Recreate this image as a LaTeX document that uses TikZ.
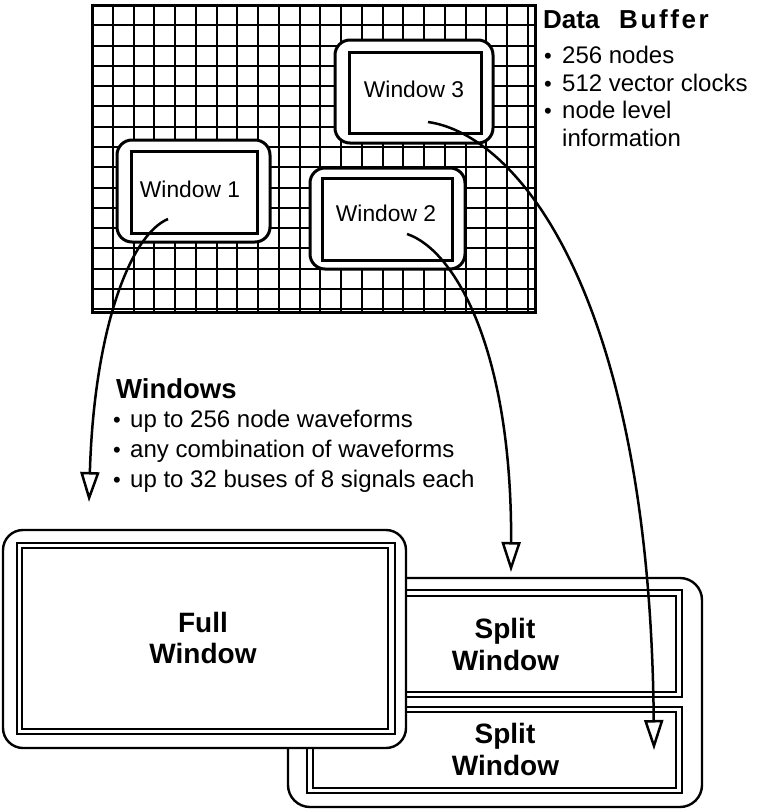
\documentclass[tikz,border=0pt]{standalone}
\usepackage{fontspec}
\setmainfont{Liberation Sans}
\newfontfamily\bufspaced[LetterSpace=10]{Liberation Sans}
\usetikzlibrary{arrows.meta}
\begin{document}
\begin{tikzpicture}[x=1pt,y=-1pt,
  gridline/.style={line width=2pt},
  outerwin/.style={draw, fill=white, line width=3pt, rounded corners=15pt, inner sep=0pt},
  innerwin/.style={draw, fill=white, line width=3pt, inner sep=0pt},
  bigouter/.style={draw, fill=white, line width=2.4pt, rounded corners=22pt, inner sep=0pt},
  dblline/.style={draw, line width=2pt, inner sep=0pt},
  winlabel/.style={font=\fontsize{22.8}{26}\selectfont, anchor=base, inner sep=0pt},
  listtext/.style={font=\fontsize{24}{28}\selectfont, anchor=base west, inner sep=0pt},
  bulletmark/.style={font=\fontsize{22}{26}\selectfont, anchor=base, inner sep=0pt},
  bigbold/.style={font=\bfseries\fontsize{28}{32}\selectfont, anchor=base, inner sep=0pt},
  titletext/.style={font=\bfseries\fontsize{27.5}{32}\selectfont, anchor=base west, inner sep=0pt},
  flow/.style={line width=2.5pt, -{Triangle[open, length=30pt, width=19pt]}}
]
\useasboundingbox (0,0) rectangle (760,809);

% ---- lower windows ----
\node[bigouter, minimum width=414pt, minimum height=229pt] (splitframe) at (495,692.5) {};
\node[dblline, minimum width=375pt, minimum height=107pt] (s1a) at (494.5,643.5) {};
\node[dblline, line width=1.6pt, minimum width=363pt, minimum height=96pt] (s1b) at (494.5,644) {};
\node[dblline, minimum width=375pt, minimum height=86pt] (s2a) at (494.5,750) {};
\node[dblline, line width=1.6pt, minimum width=363pt, minimum height=76pt] (s2b) at (494.5,750) {};

\node[bigouter, rounded corners=20pt, minimum width=403pt, minimum height=218pt] (fullframe) at (204.5,639) {};
\node[dblline, minimum width=378pt, minimum height=191pt] (fa) at (206,638.5) {};
\node[dblline, line width=1.6pt, minimum width=366pt, minimum height=181pt] (fb) at (205,638.5) {};

\node[bigbold] (full1) at (203,632) {Full};
\node[bigbold] (full2) at (203,663) {Window};
\node[bigbold] (sa1) at (505,638) {Split};
\node[bigbold] (sa2) at (505.5,670) {Window};
\node[bigbold] (sb1) at (505,743) {Split};
\node[bigbold] (sb2) at (505.5,775) {Window};

% ---- data buffer grid ----
\foreach \k in {1,...,21} \draw[gridline] ({92+20.75*\k},5) -- ({92+20.75*\k},312);
\foreach \k in {1,...,15} \draw[gridline] (92,{5+20.29*\k}) -- (535,{5+20.29*\k});
\node[draw, line width=3pt, inner sep=0pt, minimum width=443pt, minimum height=307pt] (buffer) at (313.5,158.5) {};

% ---- windows in the buffer ----
\node[outerwin, minimum width=153pt, minimum height=102pt] (w1o) at (193.5,191) {};
\node[innerwin, minimum width=126pt, minimum height=82pt] (w1) at (194,192) {};
\node[outerwin, minimum width=155pt, minimum height=101pt] (w2o) at (387.5,218.5) {};
\node[innerwin, minimum width=130pt, minimum height=82pt] (w2) at (387,219) {};
\node[outerwin, minimum width=158pt, minimum height=103pt] (w3o) at (414,91.5) {};
\node[innerwin, minimum width=132pt, minimum height=81pt] (w3) at (415,92.5) {};

\node[winlabel] (w1t) at (190,197) {Window 1};
\node[winlabel] (w2t) at (386,221) {Window 2};
\node[winlabel] (w3t) at (414,97) {Window 3};

% ---- Data Buffer text ----
\node[font=\bfseries\fontsize{26}{30}\selectfont, anchor=base west, inner sep=0pt] (dbt1) at (543,28) {Data};
\node[font=\bufspaced\bfseries\fontsize{26}{30}\selectfont, anchor=base west, inner sep=0pt] (dbt2) at (619,28) {Buffer};
\node[bulletmark] (db1b) at (548,63) {•};
\node[listtext] (db1) at (562,63) {256 nodes};
\node[bulletmark] (db2b) at (548,91) {•};
\node[listtext] (db2) at (562,91) {512 vector clocks};
\node[bulletmark] (db3b) at (548,118) {•};
\node[listtext] (db3) at (562,118) {node level};
\node[listtext] (db4) at (562,146) {information};

% ---- Windows text ----
\node[titletext] (wt) at (116,398) {Windows};
\node[bulletmark] (wl1b) at (117,427) {•};
\node[listtext] (wl1) at (130,427) {up to 256 node waveforms};
\node[bulletmark] (wl2b) at (117,457) {•};
\node[listtext] (wl2) at (130,457) {any combination of waveforms};
\node[bulletmark] (wl3b) at (117,487) {•};
\node[listtext] (wl3) at (130,487) {up to 32 buses of 8 signals each};

% ---- connectors ----
\coordinate (a1s) at (168,219);
\coordinate (a1e) at (89,502);
\coordinate (a2s) at (407,234);
\coordinate (a2e) at (511,572);
\coordinate (a3s) at (428,122);
\coordinate (a3e) at (654,750);
\draw[flow] (a1s) .. controls (130,235) and (94,330) .. (a1e);
\draw[flow] (a2s) .. controls (455,250) and (512,350) .. (a2e);
\draw[flow] (a3s) .. controls (520,135) and (650,300) .. (a3e);
\end{tikzpicture}
\end{document}
